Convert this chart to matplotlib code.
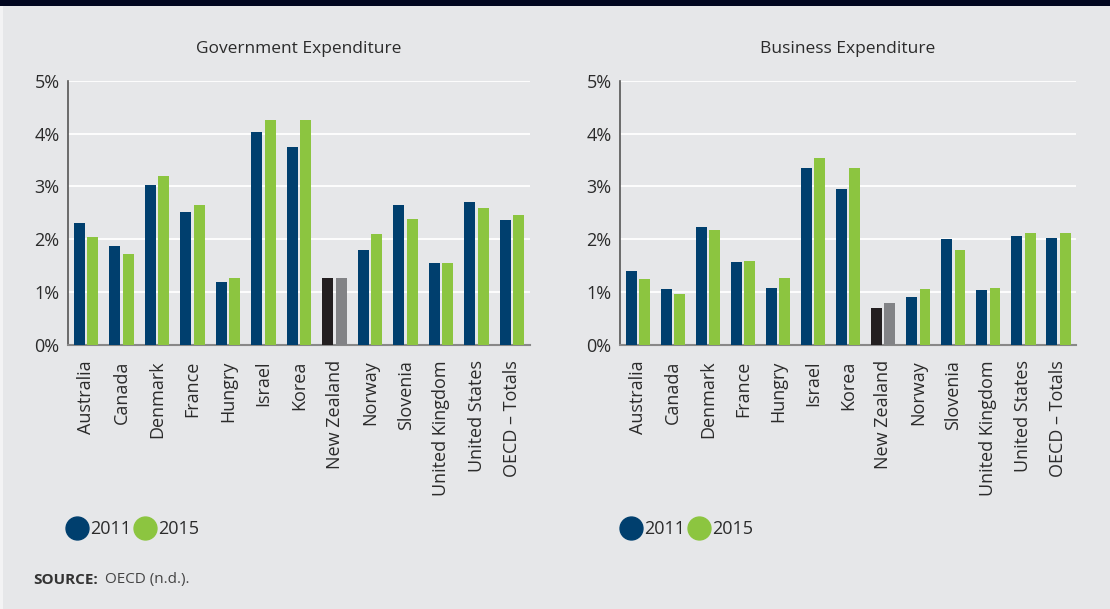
import matplotlib
matplotlib.use("Agg")
import matplotlib.pyplot as plt
from matplotlib.patches import Rectangle
from matplotlib.lines import Line2D
import numpy as np

countries = ["Australia", "Canada", "Denmark", "France", "Hungry", "Israel", "Korea",
             "New Zealand", "Norway", "Slovenia", "United Kingdom", "United States", "OECD – Totals"]
gov_2011 = [2.31, 1.87, 3.03, 2.52, 1.19, 4.03, 3.75, 1.27, 1.80, 2.65, 1.55, 2.70, 2.36]
gov_2015 = [2.04, 1.72, 3.20, 2.65, 1.27, 4.26, 4.26, 1.27, 2.10, 2.38, 1.55, 2.59, 2.46]
bus_2011 = [1.40, 1.06, 2.23, 1.57, 1.08, 3.35, 2.95, 0.70, 0.91, 2.01, 1.04, 2.06, 2.02]
bus_2015 = [1.25, 0.96, 2.18, 1.59, 1.27, 3.54, 3.35, 0.79, 1.06, 1.80, 1.08, 2.12, 2.12]
years = ["2011", "2015"]
yticks = [0, 1, 2, 3, 4, 5]
ytick_labels = ["0%", "1%", "2%", "3%", "4%", "5%"]

BG = "#e6e7e9"
BLUE = "#003f6e"
GREEN = "#8cc540"
NZ_DARK = "#231f20"
NZ_LIGHT = "#828386"
TXT = "#2b2b2b"

plt.rcParams['font.family'] = ['Open Sans', 'DejaVu Sans']

W, H = 1110, 609
fig = plt.figure(figsize=(W / 100, H / 100), dpi=100, facecolor=BG)
fig.patches.append(Rectangle((0, 1 - 6 / H), 1, 6 / H, transform=fig.transFigure,
                             facecolor="#01061f", edgecolor="none", zorder=5))
fig.patches.append(Rectangle((0, 0), 3 / W, 1 - 6 / H, transform=fig.transFigure,
                             facecolor="#f3f3f4", edgecolor="none", zorder=5))


def panel(rect, title, v11, v15):
    ax = fig.add_axes(rect)
    ax.set_facecolor(BG)
    x = np.arange(len(countries))
    w = 0.31
    off = 0.19
    c11 = [NZ_DARK if c == "New Zealand" else BLUE for c in countries]
    c15 = [NZ_LIGHT if c == "New Zealand" else GREEN for c in countries]
    ax.bar(x - off, v11, width=w, color=c11, zorder=3)
    ax.bar(x + off, v15, width=w, color=c15, zorder=3)
    ax.set_xlim(-0.51, len(countries) - 0.5)
    ax.set_ylim(0, 5)
    ax.set_yticks(yticks)
    ax.set_yticklabels(ytick_labels, fontsize=13, color=TXT)
    ax.set_xticks(x)
    ax.set_xticklabels(countries, rotation=90, fontsize=13, color=TXT)
    ax.tick_params(axis='y', length=0, pad=6)
    ax.tick_params(axis='x', length=0, pad=11)
    ax.grid(axis='y', color="white", linewidth=1.3, zorder=0)
    ax.set_axisbelow(True)
    for s in ["top", "right"]:
        ax.spines[s].set_visible(False)
    ax.spines["left"].set_color("#555555")
    ax.spines["left"].set_linewidth(1.2)
    ax.spines["bottom"].set_color("#888888")
    ax.spines["bottom"].set_linewidth(1.5)
    ax.set_title(title, fontsize=12.5, color=TXT, pad=20)
    return ax


ax1 = panel([68 / W, 1 - 345 / H, 462 / W, 264.3 / H], "Government Expenditure", gov_2011, gov_2015)
ax2 = panel([620 / W, 1 - 345 / H, 456 / W, 264.3 / H], "Business Expenditure", bus_2011, bus_2015)

handles = [Line2D([], [], linestyle="none", marker="o", markersize=16.5, color=BLUE),
           Line2D([], [], linestyle="none", marker="o", markersize=16.5, color=GREEN)]
for x0 in [54, 608]:
    fig.legend(handles, years, loc="center left", bbox_to_anchor=(x0 / W, 1 - 529 / H),
               ncol=2, frameon=False, fontsize=13, handletextpad=0.0, columnspacing=0.0,
               borderpad=0, handlelength=1.5, labelcolor=TXT)

fig.text(33 / W, 1 - 580 / H, "SOURCE:", fontsize=11, fontweight="bold", color="#333333", va="center")
fig.text(105 / W, 1 - 580 / H, "OECD (n.d.).", fontsize=11, color="#444444", va="center")

fig.savefig("out.png", dpi=100, facecolor=BG)
